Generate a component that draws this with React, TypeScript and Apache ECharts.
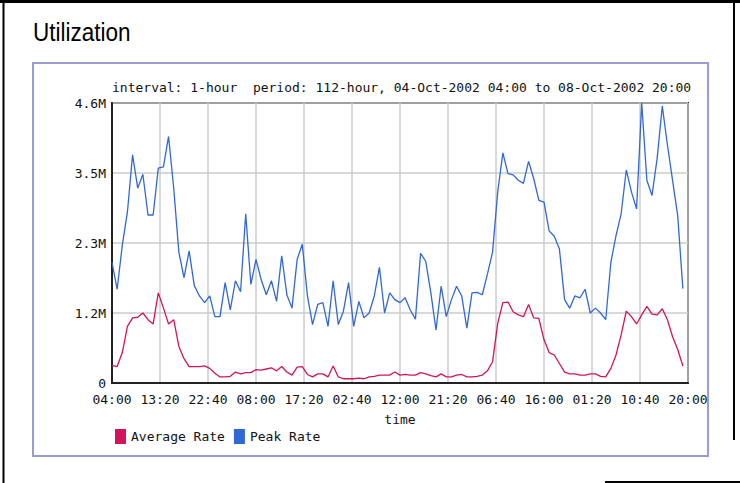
import React, { useEffect, useRef } from "react";
import * as echarts from "echarts";

const titleText = "Utilization";
const subtitleText =
  "interval: 1-hour  period: 112-hour, 04-Oct-2002 04:00 to 08-Oct-2002 20:00";
const xTickLabels = [
  "04:00", "13:20", "22:40", "08:00", "17:20", "02:40", "12:00",
  "21:20", "06:40", "16:00", "01:20", "10:40", "20:00",
];
const yTickLabels = ["0", "1.2M", "2.3M", "3.5M", "4.6M"];
const seriesNames = ["Average Rate", "Peak Rate"];

// hourly samples (millions), starting 04-Oct-2002 04:00
const averageRate = [
  0.29, 0.27, 0.5, 0.93, 1.07, 1.08, 1.15, 1.04, 0.97, 1.48,
  1.23, 0.97, 1.04, 0.6, 0.4, 0.27, 0.27, 0.27, 0.28, 0.24,
  0.16, 0.1, 0.1, 0.11, 0.18, 0.15, 0.17, 0.17, 0.22, 0.21,
  0.23, 0.25, 0.2, 0.27, 0.18, 0.13, 0.26, 0.27, 0.14, 0.1,
  0.15, 0.15, 0.1, 0.28, 0.1, 0.07, 0.07, 0.07, 0.08, 0.07,
  0.1, 0.11, 0.13, 0.13, 0.13, 0.18, 0.13, 0.14, 0.13, 0.13,
  0.17, 0.15, 0.12, 0.1, 0.15, 0.1, 0.1, 0.13, 0.14, 0.1,
  0.1, 0.11, 0.13, 0.2, 0.35, 0.98, 1.32, 1.33, 1.17, 1.12,
  1.09, 1.29, 1.07, 1.06, 0.71, 0.5, 0.46, 0.32, 0.18, 0.15,
  0.15, 0.13, 0.13, 0.15, 0.15, 0.11, 0.1, 0.24, 0.46, 0.79,
  1.18, 1.09, 0.97, 1.12, 1.26, 1.13, 1.12, 1.22, 1.04, 0.76,
  0.55, 0.28,
];
const peakRate = [
  1.98, 1.54, 2.26, 2.81, 3.75, 3.2, 3.43, 2.76, 2.76, 3.53,
  3.55, 4.05, 3.2, 2.15, 1.73, 2.17, 1.6, 1.43, 1.32, 1.43,
  1.09, 1.09, 1.65, 1.2, 1.68, 1.5, 2.78, 1.62, 2.03, 1.7,
  1.45, 1.68, 1.34, 2.09, 1.45, 1.23, 2.03, 2.28, 1.43, 0.96,
  1.29, 1.32, 0.93, 1.68, 0.96, 1.18, 1.65, 0.93, 1.34, 1.07,
  1.15, 1.43, 1.9, 1.15, 1.48, 1.37, 1.32, 1.4, 1.2, 1.05,
  2.13, 2.0, 1.48, 0.87, 1.59, 1.09, 1.37, 1.59, 1.43, 0.9,
  1.48, 1.49, 1.45, 1.79, 2.15, 3.14, 3.78, 3.44, 3.42, 3.33,
  3.28, 3.64, 3.36, 3.0, 2.97, 2.5, 2.41, 2.2, 1.37, 1.23,
  1.43, 1.4, 1.54, 1.15, 1.23, 1.15, 1.04, 1.98, 2.42, 2.78,
  3.5, 3.14, 2.86, 4.6, 3.33, 3.08, 3.69, 4.55, 3.91, 3.33,
  2.75, 1.55,
];

const MONO = "'DejaVu Sans Mono', 'Liberation Mono', monospace";
const AVG_COLOR = "#d3145c";
const PEAK_COLOR = "#3068d6";

export default function App() {
  const ref = useRef<HTMLDivElement>(null);
  useEffect(() => {
    if (!ref.current) return;
    const chart = echarts.init(ref.current, undefined, { renderer: "svg" });
    const toPts = (arr: number[]) =>
      arr.map((v, i) => [i * 60, Math.round(v * 1e6)]);
    chart.setOption({
      animation: false,
      backgroundColor: "#ffffff",
      textStyle: { fontFamily: MONO },
      grid: {
        left: 112,
        top: 103,
        right: 52,
        bottom: 100,
        show: true,
        borderColor: "#222",
        borderWidth: 2,
        backgroundColor: "transparent",
      },
      legend: {
        left: 110,
        top: 424,
        icon: "rect",
        itemWidth: 11,
        itemHeight: 15,
        itemGap: 9,
        data: seriesNames,
        textStyle: { fontFamily: MONO, fontSize: 13, color: "#111" },
      },
      xAxis: {
        type: "value",
        min: 0,
        max: 6720,
        interval: 560,
        name: "time",
        nameLocation: "middle",
        nameGap: 30,
        nameTextStyle: { fontFamily: MONO, fontSize: 13, color: "#111" },
        axisLine: { show: true, lineStyle: { color: "#222", width: 2 } },
        axisTick: { show: false },
        axisLabel: {
          margin: 10,
          fontFamily: MONO,
          fontSize: 13,
          color: "#111",
          formatter: (v: number) => xTickLabels[Math.round(v / 560)] ?? "",
        },
        splitLine: { show: true, lineStyle: { color: "#c9cdc9", width: 1.5 } },
      },
      yAxis: {
        type: "value",
        min: 0,
        max: 4600000,
        interval: 1150000,
        axisLine: { show: true, lineStyle: { color: "#222", width: 2 } },
        axisTick: { show: false },
        axisLabel: {
          margin: 6,
          fontFamily: MONO,
          fontSize: 13,
          color: "#111",
          formatter: (v: number) => yTickLabels[Math.round(v / 1150000)] ?? "",
        },
        splitLine: { show: true, lineStyle: { color: "#c9cdc9", width: 1.5 } },
      },
      series: [
        {
          name: seriesNames[0],
          type: "line",
          data: toPts(averageRate),
          showSymbol: false,
          color: AVG_COLOR,
          lineStyle: { width: 1.3, color: AVG_COLOR },
        },
        {
          name: seriesNames[1],
          type: "line",
          data: toPts(peakRate),
          showSymbol: false,
          color: PEAK_COLOR,
          lineStyle: { width: 1.3, color: PEAK_COLOR },
        },
      ],
      graphic: [
        { type: "line", shape: { x1: 0, y1: 1.5, x2: 740, y2: 1.5 }, style: { stroke: "#000", lineWidth: 3 } },
        { type: "line", shape: { x1: 3.5, y1: 0, x2: 3.5, y2: 483 }, style: { stroke: "#000", lineWidth: 2 } },
        { type: "line", shape: { x1: 734, y1: 0, x2: 734, y2: 440 }, style: { stroke: "#000", lineWidth: 2 } },
        { type: "line", shape: { x1: 605, y1: 482, x2: 740, y2: 482 }, style: { stroke: "#000", lineWidth: 2 } },
        {
          type: "rect",
          shape: { x: 33, y: 63, width: 675, height: 393 },
          style: { fill: "transparent", stroke: "#9c9cd4", lineWidth: 2 },
          z: -1,
        },
        {
          type: "text",
          x: 33,
          y: 20,
          scaleX: 0.9,
          style: {
            text: titleText,
            fontFamily: "'Liberation Sans', Arial, sans-serif",
            fontSize: 25,
            fill: "#000",
          },
        },
        {
          type: "text",
          left: 112,
          top: 81,
          style: { text: subtitleText, fontFamily: MONO, fontSize: 13, fill: "#111" },
        },
      ],
    });
    return () => chart.dispose();
  }, []);
  return (
    <div
      ref={ref}
      style={{ position: "fixed", left: 0, top: 0, width: 740, height: 483 }}
    />
  );
}
